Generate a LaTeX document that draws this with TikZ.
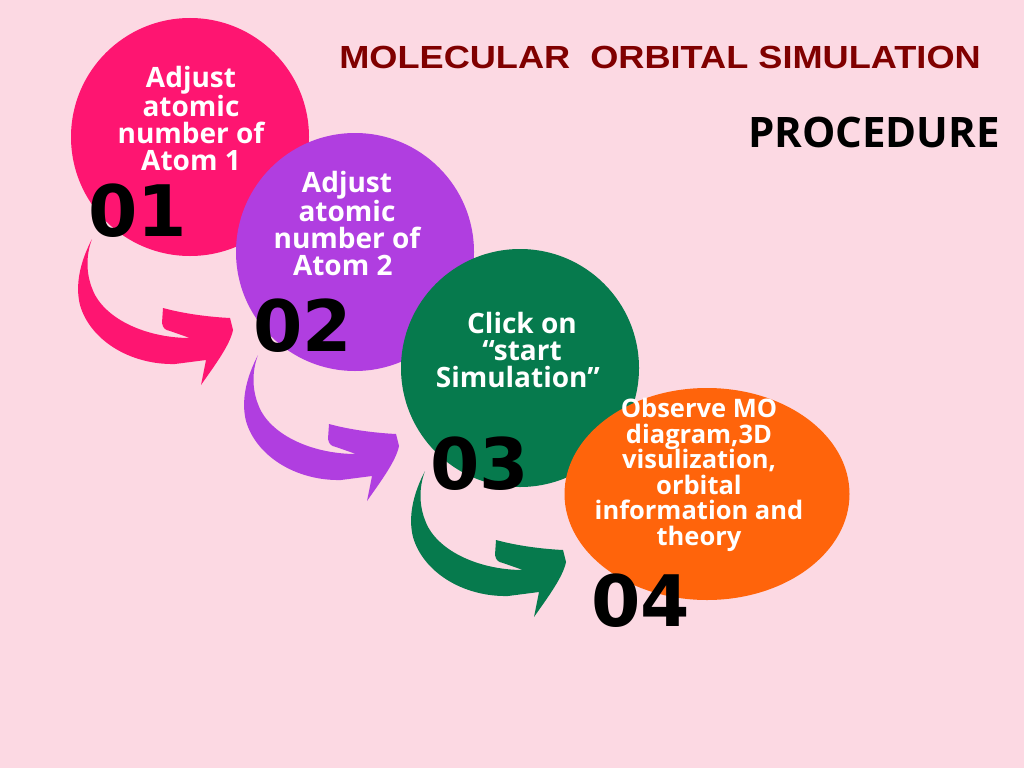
\documentclass[tikz,border=0pt]{standalone}
\usepackage{fontspec}
\setmainfont{Open Sans}
\newfontfamily\numfont{DejaVu Sans}
\newfontfamily\titlefont{Liberation Sans}
\usetikzlibrary{shapes.geometric}
\definecolor{bgpink}{HTML}{FCD9E3}
\definecolor{cpink}{HTML}{FE1571}
\definecolor{cpurple}{HTML}{B03EE0}
\definecolor{cgreen}{HTML}{067A4D}
\definecolor{corange}{HTML}{FF640B}
\definecolor{ctitle}{HTML}{800000}
\tikzset{
  bubble/.style={circle, inner sep=0pt, minimum size=238pt},
  steptext/.style={text=white, align=center, inner sep=0pt, font=\fontsize{28}{27}\selectfont\bfseries},
  stepnum/.style={font=\numfont\fontsize{71}{71}\selectfont\bfseries, text=black, inner sep=0pt},
}
\newcommand\curvedarrow[1]{%
  \fill[#1] (92,239) .. controls (80,262) and (75,285) .. (80,305)
    .. controls (90,340) and (130,365) .. (175,364) -- (206,360) -- (201,385)
    .. controls (215,365) and (230,345) .. (233,330) -- (230,318)
    .. controls (210,317) and (185,314) .. (163,308) -- (162,323)
    .. controls (163,328) and (165,330) .. (170,331) -- (190,338)
    .. controls (150,338) and (110,322) .. (95,295)
    .. controls (85,275) and (86,255) .. (92,239) -- cycle;}
\begin{document}
\begin{tikzpicture}[x=1pt,y=-1pt]
\fill[bgpink] (0,0) rectangle (1024,768);
\useasboundingbox (0,0) rectangle (1024,768);
% circles
\node[bubble, fill=cpink] (c1) at (190,137) {};
\node[bubble, fill=cpurple] (c2) at (355,252) {};
\node[bubble, fill=cgreen] (c3) at (520,368) {};
\node[ellipse, inner sep=0pt, minimum width=285pt, minimum height=212pt, fill=corange] (c4) at (707,494) {};
% arrows
\curvedarrow{cpink}
\begin{scope}[shift={(166,116)}]\curvedarrow{cpurple}\end{scope}
\begin{scope}[shift={(333,232)}]\curvedarrow{cgreen}\end{scope}
% texts
\node[steptext] (t1) at (191,118) {Adjust\\atomic\\number of\\Atom 1};
\node[steptext] (t2) at (347,223) {Adjust\\atomic\\number of\\Atom 2\hspace*{0.3em}};
\node[steptext] (t3) at (522,350) {Click on\\“start\hspace*{0.3em}\\Simulation”\hspace*{0.3em}};
\node[steptext, font=\fontsize{25.5}{25.5}\selectfont\bfseries] (t4) at (699,475) {Observe MO\\diagram,3D\hspace*{0.3em}\\visulization,\hspace*{0.3em}\\orbital\\information and\\theory};
% numbers
\node[stepnum] (n1) at (137.5,211) {01};
\node[stepnum] (n2) at (302.5,326) {02};
\node[stepnum] (n3) at (479.5,463.5) {03};
\node[stepnum] (n4) at (640.5,601) {04};
% titles
\node[font=\titlefont\fontsize{32}{32}\selectfont\bfseries, text=ctitle, xscale=1.13, transform shape] (title) at (660,57) {MOLECULAR\ \ ORBITAL SIMULATION};
\node[font=\fontsize{42}{42}\selectfont\bfseries, text=black] (proc) at (874,132) {PROCEDURE};
\end{tikzpicture}
\end{document}
